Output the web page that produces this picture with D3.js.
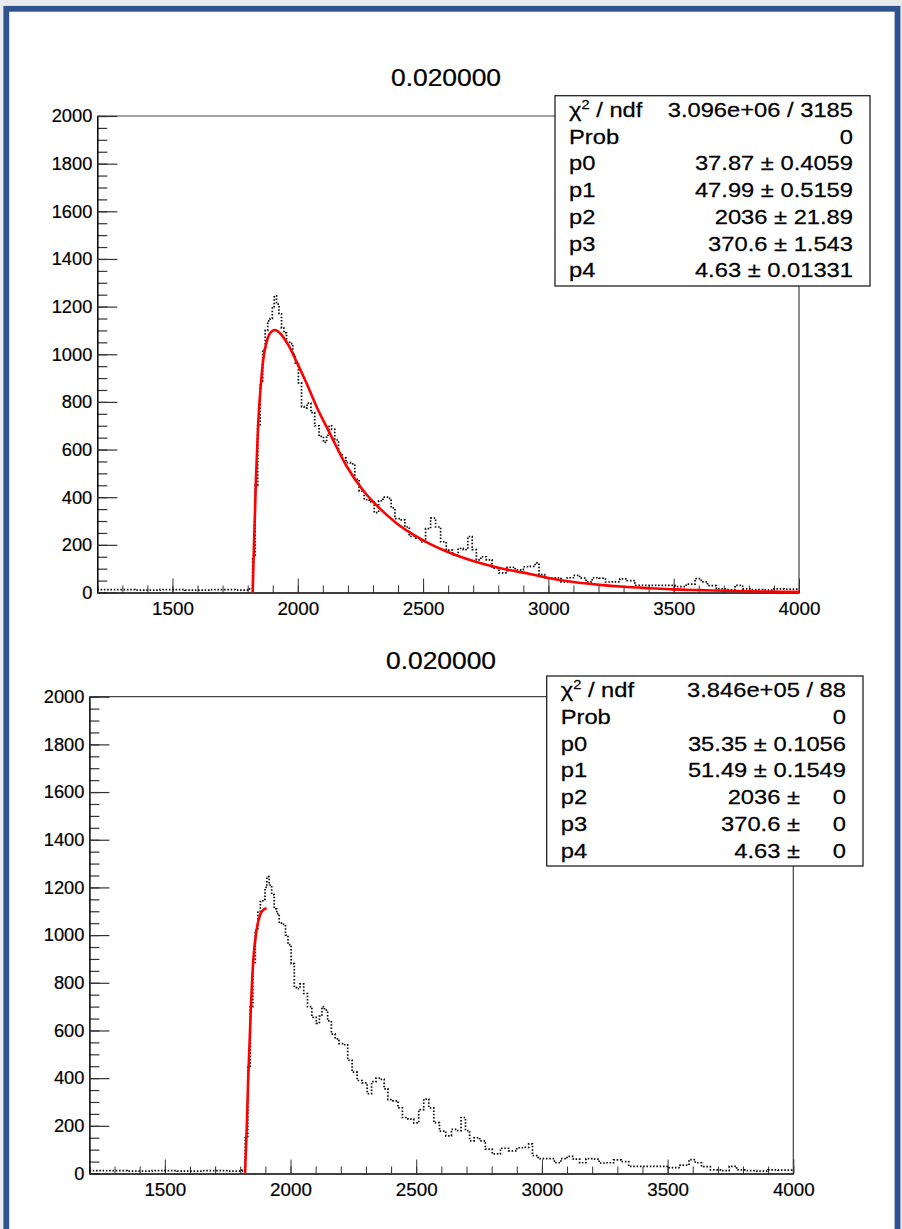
<!DOCTYPE html>
<html lang="en">
<head>
<meta charset="UTF-8">
<title>Fit 0.020000</title>
<script src="https://d3js.org/d3.v7.min.js"></script>
<style>
  body { margin: 0; padding: 0; background: #e8eaed; }
  svg { display: block; font-family: "Liberation Sans", Arial, sans-serif; }
</style>
</head>
<body>
<svg id="chart" width="902" height="1229"></svg>
<script>
// histogram (bin position, counts)
const histX = [1200,1300,1400,1500,1600,1700,1800,1815,1825,1835,1845,1855,1865,1875,1885,1895,1902,1910,1920,1930,1940,1950,1960,1975,1985,1995,2010,2020,2030,2045,2060,2075,2095,2110,2120,2130,2140,2155,2170,2185,2200,2220,2235,2255,2275,2295,2315,2330,2350,2365,2380,2395,2420,2435,2455,2480,2500,2520,2540,2560,2580,2605,2630,2650,2670,2687,2705,2720,2740,2765,2785,2820,2850,2885,2915,2940,2955,2970,3000,3040,3060,3090,3110,3140,3160,3190,3215,3240,3270,3300,3330,3360,3420,3480,3530,3570,3600,3620,3650,3690,3730,3760,3790,3830,3880,3920,3960,4000];
const histY = [12,12,10,12,10,12,10,15,150,450,700,880,1020,1100,1140,1150,1200,1245,1210,1170,1110,1090,1050,1045,1000,960,880,780,775,795,755,700,655,630,660,700,685,640,585,565,545,540,475,425,390,380,335,385,400,395,355,310,305,275,235,228,212,268,312,275,213,178,158,185,180,235,180,137,150,137,102,82,106,95,108,110,124,75,62,62,45,62,72,60,45,62,60,44,45,57,50,30,30,30,25,35,58,45,29,15,12,30,15,12,10,15,14,14];

// red fit curves
const fit1X = [1820,1825,1833,1842,1852,1862,1876,1889,1909,1929,1962,1995,2035,2075,2128,2195,2261,2328,2394,2461,2527,2594,2660,2727,2793,2859,2926,3005,3100,3205,3300,3404,3500,3604,3803,4000];
const fit1Y = [0,192,472,710,864,976,1053,1088,1102,1088,1039,969,878,780,668,530,428,352,291,243,204,172,146,124,106,91,78,60,44,32,24,18,13,10,5,3];
const fit2X = [1819,1826,1832,1842,1852,1865,1879,1892,1905];
const fit2Y = [0,196,406,686,896,1022,1085,1106,1113];

const xMajorTicks = [1500,2000,2500,3000,3500,4000];
const yMajorTicks = [0,200,400,600,800,1000,1200,1400,1600,1800,2000];

const titleText = "0.020000";
const statLabels = ["χ2 / ndf","Prob","p0","p1","p2","p3","p4"];
const stats1 = [["3.096e+06 / 3185"],["0"],["37.87 ± 0.4059"],["47.99 ± 0.5159"],["2036 ± 21.89"],["370.6 ± 1.543"],["4.63 ± 0.01331"]];
const stats2 = [["3.846e+05 / 88"],["0"],["35.35 ± 0.1056"],["51.49 ± 0.1549"],["2036 ±","0"],["370.6 ±","0"],["4.63 ±","0"]];

const panels = [
  { left: 97.3, right: 799, top: 116, bottom: 592.5, titleX: 446, titleY: 86,
    box: { x: 555, y: 95.7, w: 315, h: 190.3 }, stats: stats1, fitX: fit1X, fitY: fit1Y },
  { left: 89.4, right: 793.3, top: 696.7, bottom: 1173.5, titleX: 441, titleY: 669,
    box: { x: 546.7, y: 676, w: 316.3, h: 190 }, stats: stats2, fitX: fit2X, fitY: fit2Y }
];

const svg = d3.select("#chart");

// outer frame
svg.append("rect").attr("width", 902).attr("height", 1229).attr("fill", "#e8eaed");
svg.append("rect")
  .attr("x", 6.3).attr("y", 8.8).attr("width", 891.2).attr("height", 1300)
  .attr("fill", "#fff").attr("stroke", "#30528f").attr("stroke-width", 5.8);

// stretched text helper (the screenshot is a little wider than tall)
function stext(g, x, y, str, size, anchor, sx) {
  return g.append("text")
    .attr("transform", `translate(${x},${y}) scale(${sx},1)`)
    .attr("font-size", size)
    .attr("text-anchor", anchor)
    .attr("fill", "#000")
    .attr("stroke", "#000").attr("stroke-width", 0.25)
    .text(str);
}

const hist = histX.map((d, i) => [d, histY[i]]);
const fmt = d3.format("d");

panels.forEach(p => {
  const x = d3.scaleLinear().domain([1200, 4000]).range([p.left, p.right]);
  const y = d3.scaleLinear().domain([0, 2000]).range([p.bottom, p.top]);
  const g = svg.append("g");

  // frame top and right
  g.append("path")
    .attr("d", `M${p.left},${p.top}H${p.right}V${p.bottom}`)
    .attr("fill", "none").attr("stroke", "#444").attr("stroke-width", 1.2);

  // minor ticks
  g.append("g").attr("transform", `translate(0,${p.bottom})`)
    .call(d3.axisBottom(x).tickValues(d3.range(1200, 4001, 100)).tickSize(-7).tickSizeOuter(0).tickFormat(""))
    .call(a => a.select(".domain").remove())
    .selectAll("line").attr("stroke", "#333");
  g.append("g").attr("transform", `translate(${p.left},0)`)
    .call(d3.axisLeft(y).tickValues(d3.range(0, 2001, 50)).tickSize(-10).tickSizeOuter(0).tickFormat(""))
    .call(a => a.select(".domain").remove())
    .selectAll("line").attr("stroke", "#333").attr("stroke-width", 1.2);

  // major ticks + labels
  const xa = g.append("g").attr("transform", `translate(0,${p.bottom})`)
    .call(d3.axisBottom(x).tickValues(xMajorTicks).tickFormat(fmt).tickSize(-14).tickSizeOuter(0).tickPadding(9));
  xa.select(".domain").attr("stroke", "#000").attr("stroke-width", 1.5);
  xa.selectAll("line").attr("stroke", "#333");
  xa.selectAll("text").attr("font-size", 18.8).attr("fill", "#000")
    .attr("stroke", "#000").attr("stroke-width", 0.2)
    .attr("font-family", "'Liberation Sans', Arial, sans-serif");

  const ya = g.append("g").attr("transform", `translate(${p.left},0)`)
    .call(d3.axisLeft(y).tickValues(yMajorTicks).tickFormat(fmt).tickSize(-20).tickSizeOuter(0).tickPadding(5));
  ya.select(".domain").attr("stroke", "#000").attr("stroke-width", 1.5);
  ya.selectAll("line").attr("stroke", "#333").attr("stroke-width", 1.2);
  ya.selectAll("text").attr("font-size", 18.3).attr("fill", "#000")
    .attr("stroke", "#000").attr("stroke-width", 0.2)
    .attr("font-family", "'Liberation Sans', Arial, sans-serif");

  // histogram, dotted steps
  g.append("path").datum(hist)
    .attr("d", d3.line().x(d => x(d[0])).y(d => y(d[1])).curve(d3.curveStep))
    .attr("fill", "none").attr("stroke", "#000").attr("stroke-width", 1.7)
    .attr("stroke-dasharray", "1.5,1.8");

  // fit
  const fit = p.fitX.map((d, i) => [d, p.fitY[i]]);
  g.append("path").datum(fit)
    .attr("d", d3.line().x(d => x(d[0])).y(d => y(d[1])).curve(d3.curveMonotoneX))
    .attr("fill", "none").attr("stroke", "#ff0000").attr("stroke-width", 2.6);

  // title
  stext(g, p.titleX, p.titleY, titleText, 24, "middle", 1.1);

  // stats box
  const b = p.box;
  g.append("rect").attr("x", b.x).attr("y", b.y).attr("width", b.w).attr("height", b.h)
    .attr("fill", "#fff").attr("stroke", "#222").attr("stroke-width", 1.3);
  const lx = b.x + 14, rx = b.x + b.w - 17;
  statLabels.forEach((lab, i) => {
    const by = b.y + 21.3 + i * 26.7;
    if (i === 0) {
      const t = stext(g, lx, by, "", 21, "start", 1.13);
      t.append("tspan").text("χ");
      t.append("tspan").attr("font-size", 13).attr("dy", -8).text("2");
      t.append("tspan").attr("dy", 8).text(" / ndf");
    } else {
      stext(g, lx, by, lab, 21, "start", 1.13);
    }
    const v = p.stats[i];
    if (v.length === 2) {
      stext(g, rx - 46, by, v[0], 21, "end", 1.13);
      stext(g, rx, by, v[1], 21, "end", 1.13);
    } else {
      stext(g, rx, by, v[0], 21, "end", 1.13);
    }
  });
});
</script>
</body>
</html>
